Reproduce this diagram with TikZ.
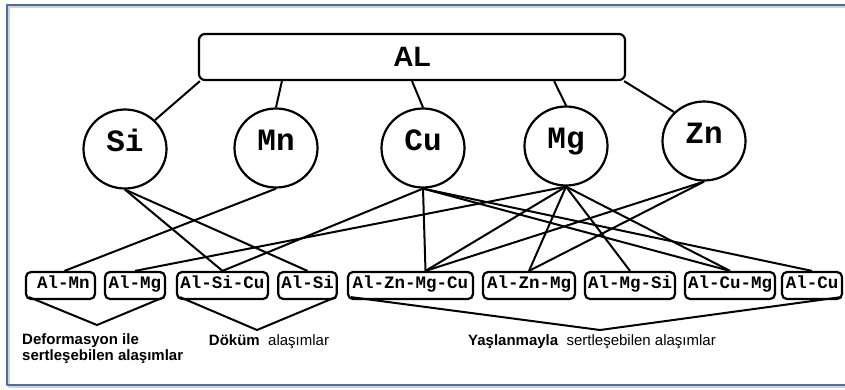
\documentclass[tikz,border=0pt]{standalone}
\usepackage{fontspec}
\setmainfont{Liberation Sans}
\newfontfamily\elemfont{Liberation Mono}
\usetikzlibrary{shapes.geometric,positioning}

\definecolor{framecol}{RGB}{74,111,165}

\begin{document}
\begin{tikzpicture}[x=1pt, y=-1pt, line join=round,
        link/.style={line width=2pt},
        top/.style={draw, rounded corners=6pt, line width=2.2pt, minimum width=426pt, minimum height=46pt,
                    font=\bfseries\fontsize{28}{28}\selectfont},
        elem/.style={ellipse, draw, line width=2.2pt, minimum width=83pt, minimum height=79pt, inner sep=0pt,
                    text height=0.62em, text depth=0.12em, font=\elemfont\bfseries\fontsize{31}{31}\selectfont},
        alloy/.style={draw, rounded corners=5pt, line width=2.2pt, minimum height=27pt, inner xsep=3pt, inner ysep=0pt,
                    text height=0.62em, text depth=0.12em, font=\elemfont\bfseries\fontsize{17.5}{17.5}\selectfont},
        group/.style={align=left, inner sep=0pt, font=\fontsize{15}{16.5}\selectfont}]
                \useasboundingbox (0,0) rectangle (845,389);
                \draw[gray!35, line width=1.2pt] (845,7) -- (9,7) -- (9,387) -- (845,387);
                \draw[framecol, line width=2.2pt] (845,5) -- (7,5) -- (7,385) -- (845,385);

                \node[top]   (al)  at (412,57)  {AL};
                \node[elem]  (si)  at (125,149) {Si};
                \node[elem]  (mn)  at (276,148) {Mn};
                \node[elem]  (cu)  at (423,148) {Cu};
                \node[elem]  (mg)  at (566,146) {Mg};
                \node[elem]  (zn)  at (704,141) {Zn};

                \node[alloy, minimum width=69pt]  (almn)     at (60.5,285.5)  {\hspace*{6pt}Al-Mn};
                \node[alloy, minimum width=60pt]  (almg)     at (135,285.5)   {Al-Mg};
                \node[alloy, minimum width=91pt]  (alsicu)   at (222.5,285.5) {Al-Si-Cu};
                \node[alloy, minimum width=55pt]  (alsi)     at (307.5,285.5) {Al-Si};
                \node[alloy, minimum width=125pt] (alznmgcu) at (410.5,285.5) {Al-Zn-Mg-Cu};
                \node[alloy, minimum width=92pt]  (alznmg)   at (529,285.5)   {Al-Zn-Mg};
                \node[alloy, minimum width=90pt]  (almgsi)   at (630,285.5)   {Al-Mg-Si};
                \node[alloy, minimum width=90pt]  (alcumg)   at (730,285.5)   {Al-Cu-Mg};
                \node[alloy, minimum width=60pt]  (alcu)     at (812,285.5)   {Al-Cu};

                \coordinate (deftip)  at (97,325);
                \coordinate (casttip) at (257,330);
                \coordinate (agetip)  at (600,330);

                \node[group, anchor=north west] (deflabel) at (22,333)
                    {\bfseries Deformasyon ile\\\bfseries sertle\c{s}ebilen ala\c{s}\i mlar};
                \node[group] (castlabel) at (269,342) {\bfseries D\"ok\"um\ \ \mdseries ala\c{s}\i mlar};
                \node[group] (agelabel)  at (592,342) {\bfseries Ya\c{s}lanmayla\ \ \mdseries sertle\c{s}ebilen ala\c{s}\i mlar};

                \path[link]
                ([xshift=2pt]al.south west) edge (si.44)
                ([xshift=84pt]al.south west) edge (mn.north)
                (al.south)                   edge (cu.north)
                ([xshift=-72pt]al.south east) edge (mg.north)
                ([xshift=-2pt]al.south east) edge (zn.136);

                \path[link]
                (si.south) edge (alsicu.north)
                (si.south) edge (alsi.north)
                (mn.south) edge ([xshift=4pt]almn.north)
                (cu.south) edge (alsicu.north)
                (cu.south) edge ([xshift=15pt]alznmgcu.north)
                (cu.south) edge (alcumg.north)
                (cu.south) edge (alcu.north)
                (mg.south) edge (almg.north)
                (mg.south) edge ([xshift=15pt]alznmgcu.north)
                (mg.south) edge (alznmg.north)
                (mg.south) edge (almgsi.north)
                (mg.south) edge (alcumg.north)
                (zn.south) edge ([xshift=15pt]alznmgcu.north)
                (zn.south) edge (alznmg.north);

                \draw[link] ([xshift=4pt,yshift=3pt]almn.south west) -- (deftip) -- ([xshift=-2pt,yshift=3pt]almg.south east);
                \draw[link] ([xshift=4pt,yshift=3pt]alsicu.south west) -- (casttip) -- ([xshift=-2pt,yshift=3pt]alsi.south east);
                \draw[link] ([xshift=4pt,yshift=3pt]alznmgcu.south west) -- (agetip) -- ([xshift=-2pt,yshift=3pt]alcu.south east);
            \end{tikzpicture}
\end{document}
